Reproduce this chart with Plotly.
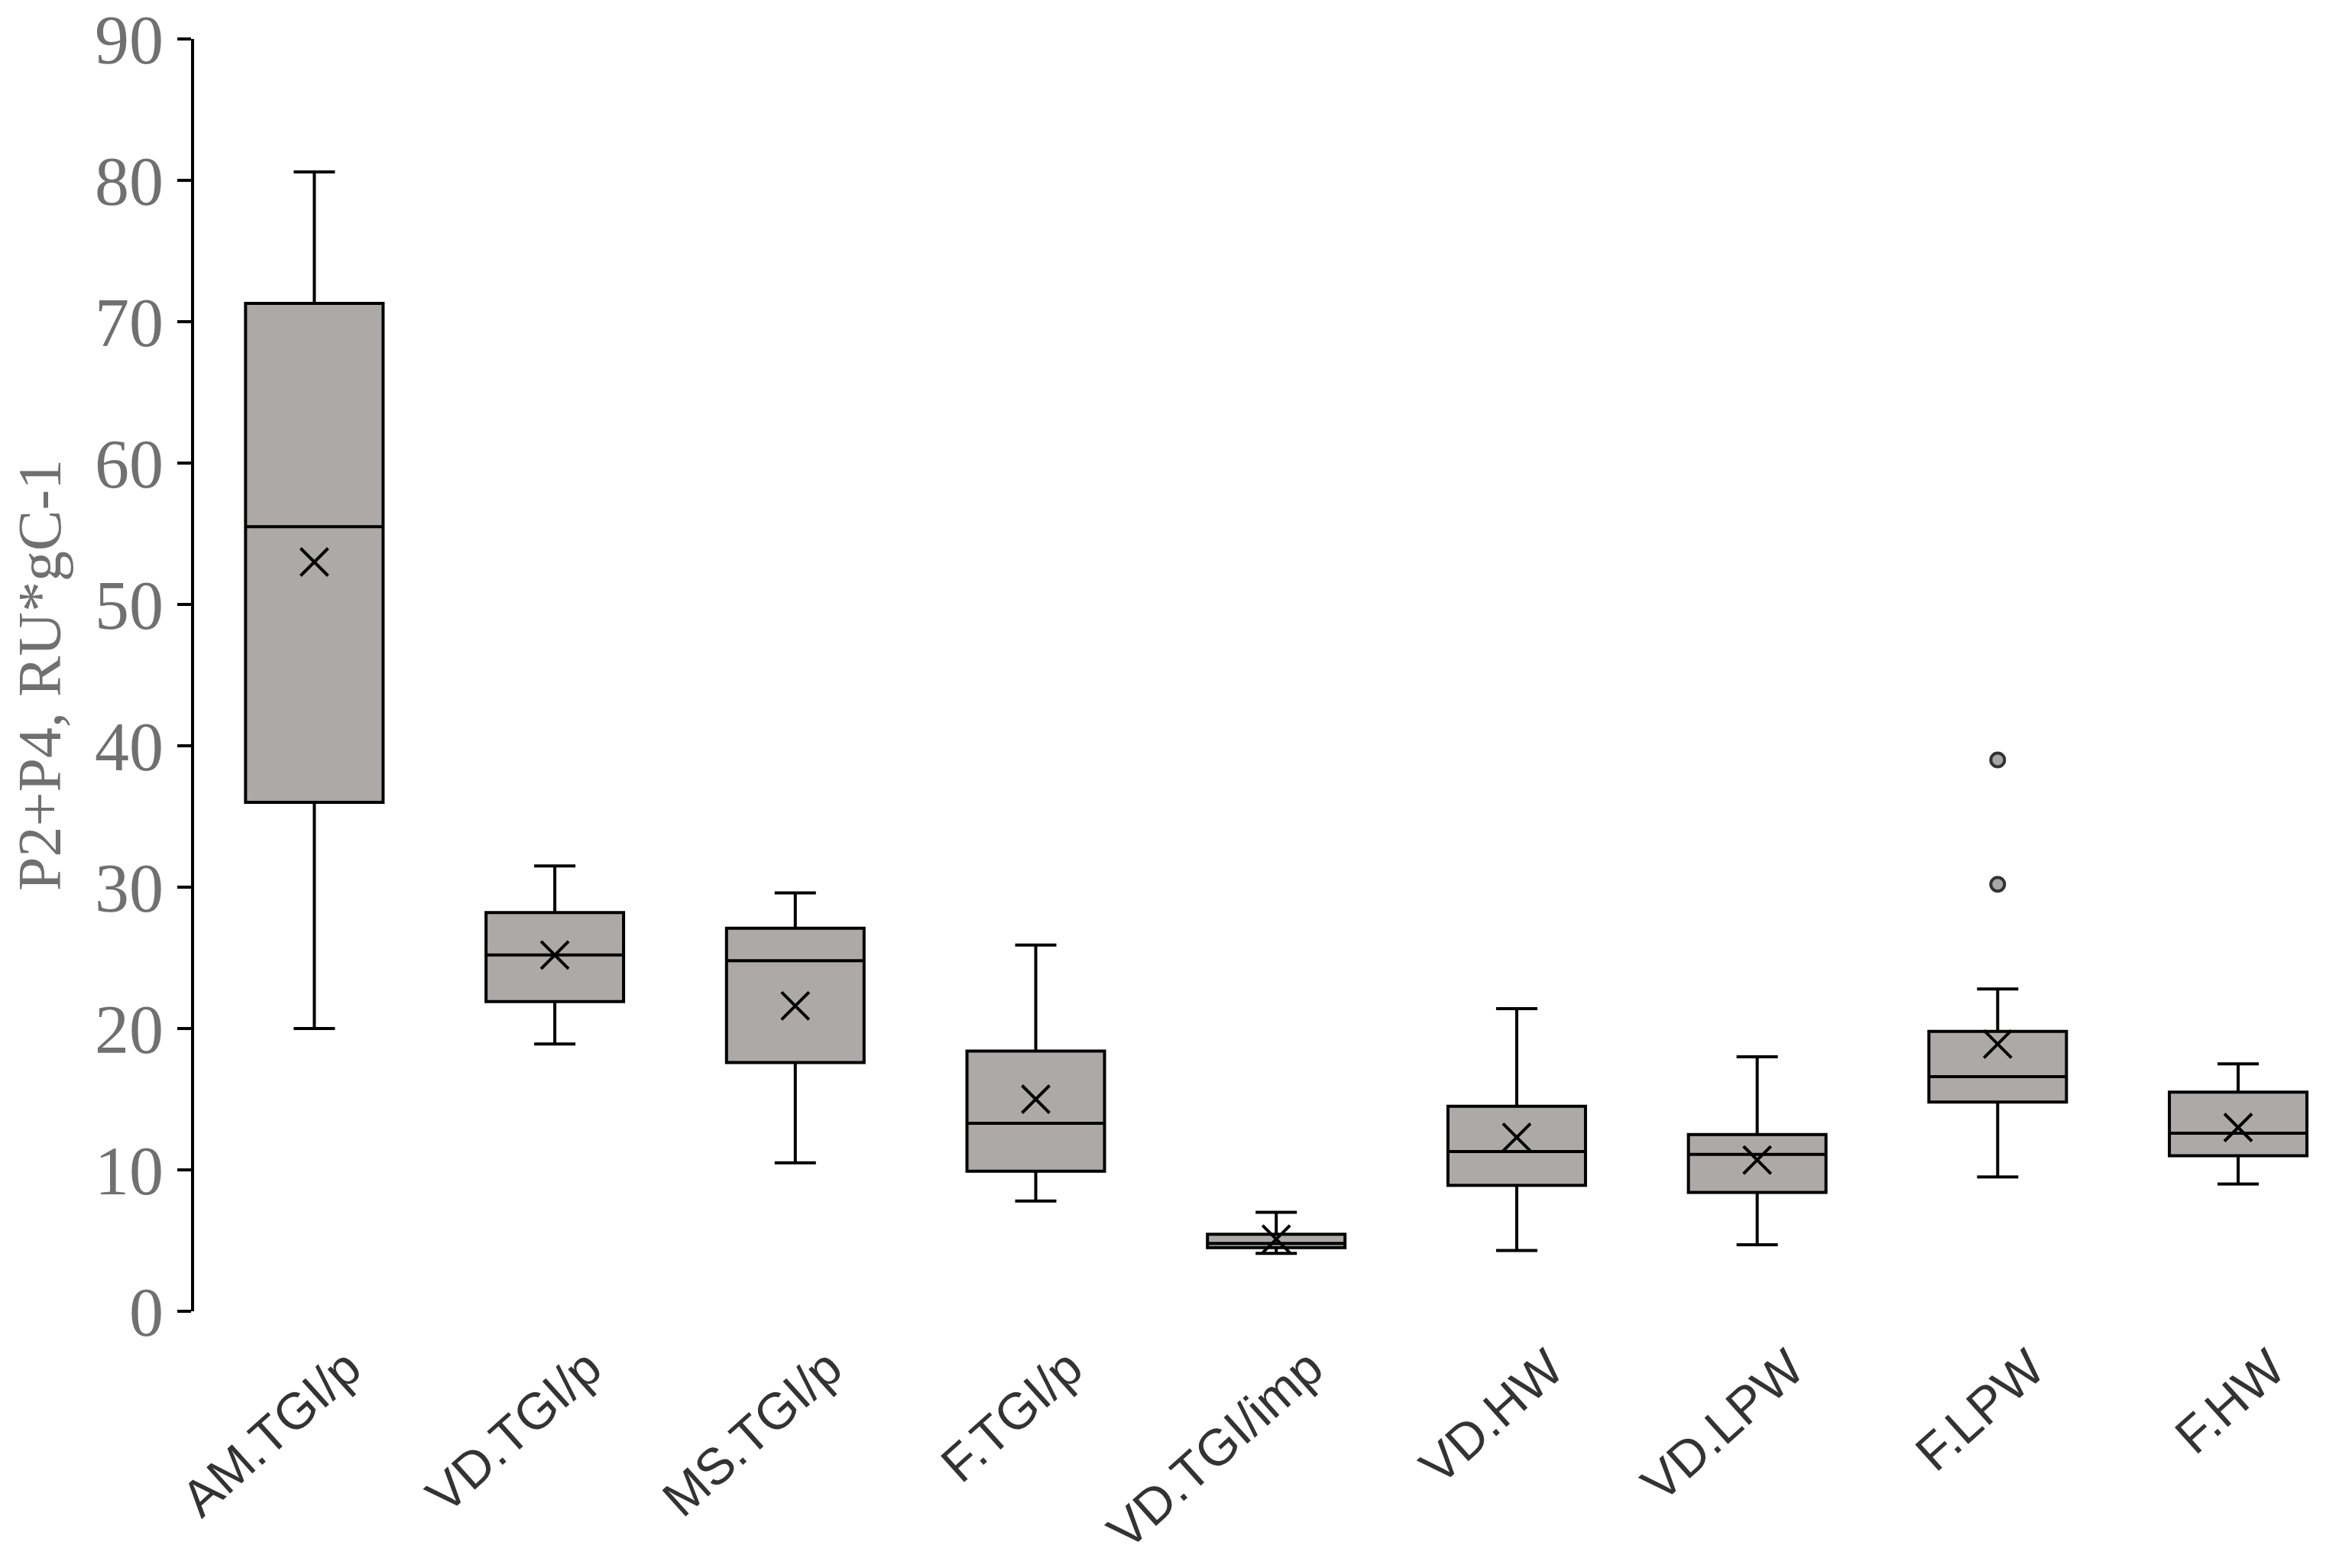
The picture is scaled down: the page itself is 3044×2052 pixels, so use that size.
import plotly.graph_objects as go

categories = ["AM.TGI/p", "VD.TGI/p", "MS.TGI/p", "F.TGI/p", "VD.TGI/imp",
              "VD.HW", "VD.LPW", "F.LPW", "F.HW"]
lower_whisker = [20.0, 18.9, 10.5, 7.8, 4.1, 4.3, 4.7, 9.5, 9.0]
q1_values     = [36.0, 21.9, 17.6, 9.9, 4.5, 8.9, 8.4, 14.8, 11.0]
median_values = [55.5, 25.2, 24.8, 13.3, 4.8, 11.3, 11.1, 16.6, 12.6]
q3_values     = [71.3, 28.2, 27.1, 18.4, 5.45, 14.5, 12.5, 19.8, 15.5]
upper_whisker = [80.6, 31.5, 29.6, 25.9, 7.0, 21.4, 18.0, 22.8, 17.5]
mean_values   = [53.0, 25.2, 21.6, 15.0, 5.1, 12.3, 10.7, 18.9, 13.0]
outlier_cats  = ["F.LPW", "F.LPW"]
outlier_vals  = [39.0, 30.2]
y_ticks = [0, 10, 20, 30, 40, 50, 60, 70, 80, 90]

fig = go.Figure()
fig.add_trace(go.Box(
    x=categories,
    q1=q1_values, median=median_values, q3=q3_values,
    lowerfence=lower_whisker, upperfence=upper_whisker,
    fillcolor="#ADA9A9",
    line=dict(color="black", width=4),
    width=0.572,
    whiskerwidth=0.3,
    boxpoints=False,
    showlegend=False,
))
fig.add_trace(go.Scatter(
    x=categories, y=mean_values, mode="markers",
    marker=dict(symbol="x-thin", size=36, line=dict(color="black", width=4)),
    showlegend=False,
))
fig.add_trace(go.Scatter(
    x=outlier_cats, y=outlier_vals, mode="markers",
    marker=dict(symbol="circle", size=18, color="#A8A5A5",
                line=dict(color="#333333", width=4)),
    showlegend=False,
))

fig.update_layout(
    width=3044, height=2052,
    margin=dict(l=246, r=4, t=43, b=344),
    plot_bgcolor="white", paper_bgcolor="white",
    xaxis=dict(
        type="category",
        range=[-0.5, 8.378],
        automargin=False,
        showline=False, showgrid=False, zeroline=False,
        ticks="",
        tickangle=-42,
        tickfont=dict(family="Liberation Sans, Arial, sans-serif", size=67, color="#333333"),
        ticklabelstandoff=21,
        ticklabelshift=43,
    ),
    yaxis=dict(
        range=[0, 90],
        tickvals=y_ticks,
        automargin=False,
        ticklabeloverflow="allow",
        showline=True, linecolor="black", linewidth=4,
        showgrid=False, zeroline=False,
        ticks="outside", ticklen=18, tickwidth=4, tickcolor="black",
        tickfont=dict(family="Liberation Serif, Times New Roman, serif", size=90, color="#707070"),
        title=dict(text="P2+P4, RU*gC-1",
                   font=dict(family="Liberation Serif, Times New Roman, serif", size=80, color="#707070"),
                   standoff=27),
    ),
)

fig.write_html("out.html")
